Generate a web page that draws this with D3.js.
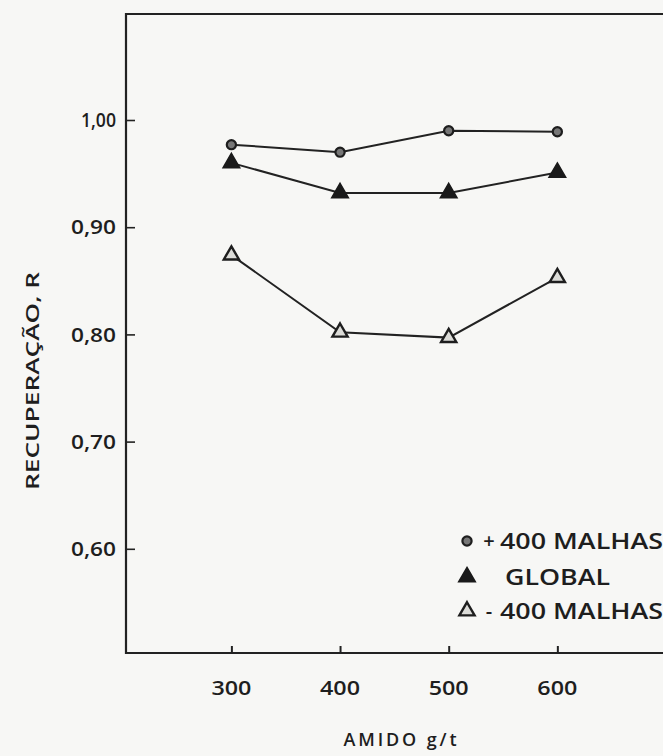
<!DOCTYPE html>
<html>
<head>
<meta charset="utf-8">
<script src="https://cdn.jsdelivr.net/npm/d3@7"></script>
<style>
  body { margin: 0; background: #f7f7f5; overflow: hidden; }
  text { font-family: "Open Sans", "DejaVu Sans", sans-serif; font-weight: 600; fill: #1e1e1e; }
</style>
</head>
<body>
<svg id="canvas"></svg>
<script>
// amido dosage (g/t)
var amido = [300, 400, 500, 600];

// recovery values
var maisMalhas = [0.977, 0.970, 0.990, 0.989];   // + 400 malhas
var global = [0.960, 0.932, 0.932, 0.951];       // global
var menosMalhas = [0.874, 0.802, 0.797, 0.853];  // - 400 malhas

var yTicks = [1.00, 0.90, 0.80, 0.70, 0.60];
var xTicks = [300, 400, 500, 600];

var width = 663, height = 756;

var svg = d3.select("#canvas")
    .attr("width", width)
    .attr("height", height);

var x = d3.scaleLinear()
    .domain([203, 700])
    .range([126, 666]);

var y = d3.scaleLinear()
    .domain([0.50, 1.00])
    .range([656, 120]);

var frameTop = 14, frameBottom = 653;

// frame (right side runs off the page)
svg.append("path")
    .attr("d", "M" + x(700) + "," + frameTop + " L" + x(203) + "," + frameTop + " L" + x(203) + "," + frameBottom + " L" + x(700) + "," + frameBottom)
    .attr("fill", "none")
    .attr("stroke", "#222")
    .attr("stroke-width", 2.2);

// y axis ticks point inwards
var yAxis = d3.axisRight(y)
    .tickValues(yTicks)
    .tickSize(9)
    .tickFormat("");

svg.append("g")
    .attr("transform", "translate(" + x(203) + ",0)")
    .call(yAxis)
    .call(function(g) { g.select(".domain").remove(); })
    .selectAll("line")
    .attr("stroke", "#222")
    .attr("stroke-width", 1.6);

svg.selectAll(".ylabel")
    .data(yTicks)
    .enter().append("text")
    .attr("class", "ylabel")
    .attr("x", 116)
    .attr("y", function(d) { return y(d); })
    .attr("dy", "0.36em")
    .attr("text-anchor", "end")
    .style("font-size", "20px")
    .attr("textLength", function(d) { return d === 1 ? 35 : 45; })
    .attr("lengthAdjust", "spacingAndGlyphs")
    .text(function(d) { return d3.format(".2f")(d).replace(".", ","); });

// x axis ticks point upwards
var xAxis = d3.axisTop(x)
    .tickValues(xTicks)
    .tickSize(7)
    .tickFormat("");

svg.append("g")
    .attr("transform", "translate(0," + frameBottom + ")")
    .call(xAxis)
    .call(function(g) { g.select(".domain").remove(); })
    .selectAll("line")
    .attr("stroke", "#222")
    .attr("stroke-width", 2);

svg.selectAll(".xlabel")
    .data(xTicks)
    .enter().append("text")
    .attr("class", "xlabel")
    .attr("x", function(d) { return x(d); })
    .attr("y", 688)
    .attr("dy", "0.36em")
    .attr("text-anchor", "middle")
    .style("font-size", "20px")
    .attr("textLength", 40)
    .attr("lengthAdjust", "spacingAndGlyphs")
    .text(function(d) { return d; });

// axis titles
svg.append("text")
    .attr("transform", "translate(33,381) rotate(-90)")
    .attr("dy", "0.36em")
    .attr("text-anchor", "middle")
    .style("font-size", "18px")
    .attr("textLength", 218)
    .attr("lengthAdjust", "spacingAndGlyphs")
    .text("RECUPERAÇÃO,  R");

svg.append("text")
    .attr("x", 400)
    .attr("y", 740)
    .attr("dy", "0.36em")
    .attr("text-anchor", "middle")
    .style("font-size", "18px")
    .attr("textLength", 113)
    .attr("lengthAdjust", "spacing")
    .text("AMIDO  g/t");

var line = d3.line()
    .x(function(d) { return x(d[0]); })
    .y(function(d) { return y(d[1]); });

var openTriangle = d3.symbol().type(d3.symbolTriangle).size(100);
var filledTriangle = d3.symbol().type(d3.symbolTriangle).size(120);

function series(values, marker) {
    var pts = d3.zip(amido, values);
    svg.append("path")
        .datum(pts)
        .attr("d", line)
        .attr("fill", "none")
        .attr("stroke", "#222")
        .attr("stroke-width", 2);
    drawMarkers(pts, marker);
}

function drawMarker(g, marker) {
    if (marker === "circle") {
        g.append("circle")
            .attr("r", 4.6)
            .attr("fill", "#777")
            .attr("stroke", "#1e1e1e")
            .attr("stroke-width", 2.2);
    } else if (marker === "filled") {
        g.append("path")
            .attr("d", filledTriangle)
            .attr("fill", "#1a1a1a")
            .attr("stroke", "#1a1a1a")
            .attr("stroke-width", 1.5);
    } else {
        g.append("path")
            .attr("d", openTriangle)
            .attr("fill", "#dcdcd8")
            .attr("stroke", "#1e1e1e")
            .attr("stroke-width", 2.4);
    }
}

function drawMarkers(pts, marker) {
    svg.selectAll(null)
        .data(pts)
        .enter().append("g")
        .attr("transform", function(d) { return "translate(" + x(d[0]) + "," + y(d[1]) + ")"; })
        .each(function() { drawMarker(d3.select(this), marker); });
}

series(maisMalhas, "circle");
series(global, "filled");
series(menosMalhas, "open");

// legend
var legendItems = [
    {marker: "circle", sign: "+", label: "400 MALHAS", y: 541, x: 500, len: 163},
    {marker: "filled", sign: "", label: "GLOBAL", y: 577, x: 505, len: 105},
    {marker: "open", sign: "-", label: "400 MALHAS", y: 611, x: 500, len: 163}
];

legendItems.forEach(function(item) {
    var g = svg.append("g").attr("transform", "translate(467," + item.y + ")");
    drawMarker(g, item.marker);
    svg.append("text")
        .attr("x", 489)
        .attr("y", item.y)
        .attr("dy", "0.36em")
        .attr("text-anchor", "middle")
        .style("font-size", "20px")
        .text(item.sign);
    svg.append("text")
        .attr("x", item.x)
        .attr("y", item.y)
        .attr("dy", "0.36em")
        .style("font-size", "21px")
        .attr("textLength", item.len)
        .attr("lengthAdjust", "spacingAndGlyphs")
        .text(item.label);
});
</script>
</body>
</html>
